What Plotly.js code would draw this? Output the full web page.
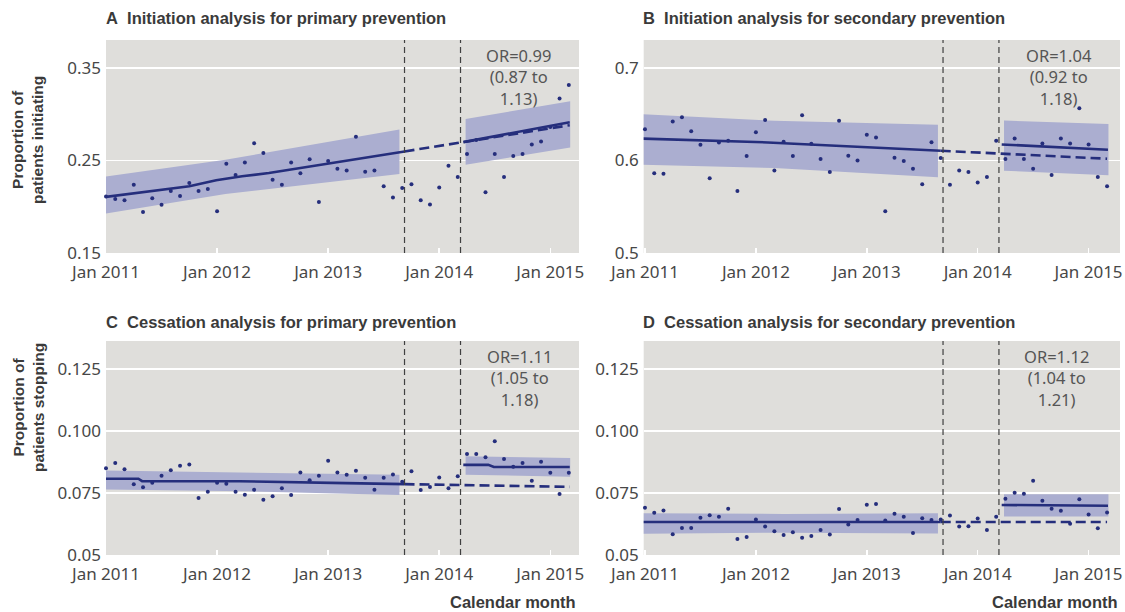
<!DOCTYPE html>
<html><head><meta charset="utf-8">
<script src="https://cdn.plot.ly/plotly-3.0.1.min.js"></script>
<style>html,body{margin:0;padding:0;background:#fff}#chart{width:1125px;height:612px}</style>
</head><body><div id="chart"></div>
<script>
// Month index: 0 = Jan 2011 ... 50 = Mar 2015
const months = Array.from({length: 51}, (_, i) => i);
const tickMonths = [0, 12, 24, 36, 48];
const tickLabels = ['Jan 2011', 'Jan 2012', 'Jan 2013', 'Jan 2014', 'Jan 2015'];
const interruption = [32.25, 38.3];

// ---- Panel A: initiation, primary prevention ----
const aPoints = [0.211, 0.2084, 0.207, 0.2238, 0.1944, 0.2091, 0.202, 0.217, 0.2116, 0.2256,
  0.217, 0.2192, 0.1952, 0.2464, 0.2342, 0.2478, 0.2686, 0.2579, 0.2292, 0.2238,
  0.2478, 0.236, 0.2511, 0.2052, 0.2493, 0.241, 0.2392, 0.2754, 0.2378, 0.2392,
  0.222, 0.2099, 0.2203, 0.2242, 0.207, 0.2023, 0.2206, 0.2443, 0.2321, 0.2568,
  0.272, 0.2156, 0.2568, 0.2321, 0.2547, 0.2568, 0.2672, 0.2704, 0.286, 0.3167, 0.3314];
const aPreK = [-0.3, 4.7, 9, 11.9, 14.7, 17.6, 20.9, 24.5, 32.25];
const aPreFit = [0.2102, 0.2167, 0.2220, 0.2285, 0.2328, 0.2364, 0.2418, 0.2471, 0.2597];
const aPreBandK = [-0.3, 12.9, 31.7];
const aPreLow = [0.1923, 0.2138, 0.2353];
const aPreHigh = [0.2321, 0.2507, 0.2833];
const aCfK = [32.25, 50.1];
const aCf = [0.2597, 0.2880];
const aPostK = [38.6, 50.1];
const aPostFit = [0.2697, 0.2912];
const aPostBandK = [38.85, 50.15];
const aPostLow = [0.2453, 0.264];
const aPostHigh = [0.2948, 0.3138];

// ---- Panel B: initiation, secondary prevention ----
const bPoints = [0.6337, 0.586, 0.5857, 0.6419, 0.6466, 0.6315, 0.6168, 0.5806, 0.6194, 0.6211,
  0.567, 0.6047, 0.6305, 0.6437, 0.5892, 0.6201, 0.6047, 0.6487, 0.6179, 0.6014,
  0.5875, 0.6427, 0.605, 0.6, 0.6276, 0.6247, 0.5452, 0.6029, 0.5993, 0.591,
  0.5742, 0.6197, 0.6025, 0.5738, 0.5892, 0.5875, 0.576, 0.5821, 0.6211, 0.6014,
  0.6237, 0.6014, 0.591, 0.6183, 0.5842, 0.6237, 0.6183, 0.6563, 0.6172, 0.5821, 0.572];
const bPreK = [-0.3, 13.3, 32.0];
const bPreFit = [0.6235, 0.6194, 0.6104];
const bPreBandK = [-0.3, 14, 31.7];
const bPreLow = [0.5953, 0.5918, 0.5817];
const bPreHigh = [0.6498, 0.6427, 0.6384];
const bCfK = [32.0, 50.0];
const bCf = [0.6104, 0.6018];
const bPostK = [38.6, 50.1];
const bPostFit = [0.6172, 0.6115];
const bPostBandK = [38.85, 50.15];
const bPostLow = [0.5889, 0.5839];
const bPostHigh = [0.643, 0.6394];

// ---- Panel C: cessation, primary prevention ----
const cPoints = [0.0850, 0.0871, 0.0846, 0.0786, 0.0774, 0.0792, 0.0820, 0.0842, 0.0860, 0.0865,
  0.0730, 0.0755, 0.0792, 0.0788, 0.0755, 0.0743, 0.0763, 0.0723, 0.0737, 0.0769,
  0.0742, 0.0833, 0.0802, 0.0820, 0.0881, 0.0833, 0.0824, 0.0840, 0.0812, 0.0763,
  0.0812, 0.0825, 0.0796, 0.0838, 0.0762, 0.0775, 0.0813, 0.0769, 0.0818, 0.0908,
  0.0908, 0.0895, 0.0959, 0.0888, 0.0856, 0.0871, 0.0800, 0.0876, 0.0832, 0.0746, 0.0832];
const cPreK = [-0.3, 3.5, 3.9, 14.4, 25.9, 32.25];
const cPreFit = [0.0808, 0.0808, 0.0798, 0.0798, 0.0790, 0.0786];
const cPreBandK = [-0.3, 15, 31.7];
const cPreLow = [0.0765, 0.0757, 0.0742];
const cPreHigh = [0.0841, 0.0834, 0.0824];
const cCfK = [32.25, 50.1];
const cCf = [0.0786, 0.0775];
const cPostK = [38.6, 41.3, 41.9, 50.1];
const cPostFit = [0.0864, 0.0864, 0.0855, 0.0855];
const cPostBandK = [38.85, 50.15];
const cPostLow = [0.0824, 0.0816];
const cPostHigh = [0.0899, 0.0892];

// ---- Panel D: cessation, secondary prevention ----
const dPoints = [0.0691, 0.0671, 0.0680, 0.0584, 0.0609, 0.0609, 0.0650, 0.0660, 0.0654, 0.0687,
  0.0565, 0.0573, 0.0643, 0.0615, 0.0596, 0.0581, 0.0592, 0.0570, 0.0577, 0.0601,
  0.0583, 0.0686, 0.0623, 0.0641, 0.0703, 0.0706, 0.0639, 0.0667, 0.0654, 0.0589,
  0.0648, 0.0641, 0.0643, 0.0659, 0.0615, 0.0616, 0.0647, 0.0601, 0.0654, 0.0727,
  0.0751, 0.0747, 0.0800, 0.0719, 0.0687, 0.0679, 0.0626, 0.0725, 0.0664, 0.0608, 0.0672];
const dPreK = [-0.3, 32.0];
const dPreFit = [0.0633, 0.0633];
const dPreBandK = [-0.3, 15, 31.7];
const dPreLow = [0.0586, 0.0590, 0.0587];
const dPreHigh = [0.0669, 0.0666, 0.0669];
const dCfK = [32.0, 50.0];
const dCf = [0.0633, 0.0633];
const dPostK = [38.6, 50.1];
const dPostFit = [0.0702, 0.0699];
const dPostBandK = [38.85, 50.15];
const dPostLow = [0.0655, 0.0655];
const dPostHigh = [0.0745, 0.0745];

const panelTitles = ['A\u00a0 Initiation analysis for primary prevention',
  'B\u00a0 Initiation analysis for secondary prevention',
  'C\u00a0 Cessation analysis for primary prevention',
  'D\u00a0 Cessation analysis for secondary prevention'];
const oddsRatios = ['OR=0.99<br>(0.87 to<br>1.13)', 'OR=1.04<br>(0.92 to<br>1.18)',
  'OR=1.11<br>(1.05 to<br>1.18)', 'OR=1.12<br>(1.04 to<br>1.21)'];
const yTitles = ['Proportion of<br>patients initiating', 'Proportion of<br>patients stopping'];
const xTitle = 'Calendar month';

// ---- styling ----
const NAVY = '#252e7c';
const BAND = '#abaed0';
const BG = '#dfdedb';
const TXT = '#474747';
const TICKFONT = {family: "'Noto Sans', sans-serif", size: 17, color: TXT};
const BOLDFONT = "'Liberation Sans', Arial, sans-serif";

const W = 1125, H = 612;
const px = v => v / W, py = v => 1 - v / H;

const data = [];
function bandTrace(K, lo, hi, xa, ya) {
  return {x: K.concat(K.slice().reverse()), y: hi.concat(lo.slice().reverse()),
    xaxis: xa, yaxis: ya, type: 'scatter', mode: 'lines', fill: 'toself',
    fillcolor: BAND, line: {width: 0}, hoverinfo: 'skip', showlegend: false};
}
function lineTrace(K, Y, xa, ya, dash) {
  return {x: K, y: Y, xaxis: xa, yaxis: ya, type: 'scatter', mode: 'lines',
    line: {color: NAVY, width: 2.6, dash: dash || 'solid'}, showlegend: false};
}
function addPanel(xa, ya, p) {
  data.push(bandTrace(p.preBandK, p.preLow, p.preHigh, xa, ya));
  data.push(bandTrace(p.postBandK, p.postLow, p.postHigh, xa, ya));
  data.push({x: months, y: p.points, xaxis: xa, yaxis: ya, type: 'scatter', mode: 'markers',
    marker: {color: NAVY, size: 4}, cliponaxis: false, showlegend: false});
  data.push(lineTrace(p.preK, p.preFit, xa, ya));
  data.push(lineTrace(p.cfK, p.cf, xa, ya, '10px,5px'));
  data.push(lineTrace(p.postK, p.postFit, xa, ya));
}
addPanel('x', 'y', {points: aPoints, preK: aPreK, preFit: aPreFit, preBandK: aPreBandK, preLow: aPreLow, preHigh: aPreHigh,
  cfK: aCfK, cf: aCf, postK: aPostK, postFit: aPostFit, postBandK: aPostBandK, postLow: aPostLow, postHigh: aPostHigh});
addPanel('x2', 'y2', {points: bPoints, preK: bPreK, preFit: bPreFit, preBandK: bPreBandK, preLow: bPreLow, preHigh: bPreHigh,
  cfK: bCfK, cf: bCf, postK: bPostK, postFit: bPostFit, postBandK: bPostBandK, postLow: bPostLow, postHigh: bPostHigh});
addPanel('x3', 'y3', {points: cPoints, preK: cPreK, preFit: cPreFit, preBandK: cPreBandK, preLow: cPreLow, preHigh: cPreHigh,
  cfK: cCfK, cf: cCf, postK: cPostK, postFit: cPostFit, postBandK: cPostBandK, postLow: cPostLow, postHigh: cPostHigh});
addPanel('x4', 'y4', {points: dPoints, preK: dPreK, preFit: dPreFit, preBandK: dPreBandK, preLow: dPreLow, preHigh: dPreHigh,
  cfK: dCfK, cf: dCf, postK: dPostK, postFit: dPostFit, postBandK: dPostBandK, postLow: dPostLow, postHigh: dPostHigh});

function xAxis(dom, anchor, range) {
  return {domain: dom, anchor: anchor, range: range, tickmode: 'array', tickvals: tickMonths,
    ticktext: tickLabels, ticks: 'inside', ticklen: 5, tickwidth: 1.5, tickcolor: '#ffffff',
    showgrid: false, zeroline: false, showline: false, tickfont: TICKFONT, ticklabelstandoff: 7, fixedrange: true};
}
function yAxis(dom, anchor, range, vals, text) {
  return {domain: dom, anchor: anchor, range: range, tickmode: 'array', tickvals: vals, ticktext: text,
    ticks: '', showgrid: true, gridcolor: '#ffffff', gridwidth: 1.6, zeroline: false, showline: false,
    tickfont: TICKFONT, ticklabelstandoff: 4, fixedrange: true};
}
const topDom = [py(253), py(40)], botDom = [py(555), py(341)];
const leftDom = [px(106), px(579)], rightDom = [px(643.7), px(1120)];

const shapes = [];
['x', 'x2', 'x3', 'x4'].forEach((xa, i) => {
  interruption.forEach(v => shapes.push({type: 'line', xref: xa, yref: (i ? 'y' + (i + 1) : 'y') + ' domain',
    x0: v, x1: v, y0: 0, y1: 1, layer: 'above', line: {color: '#404040', width: 1.2, dash: '6px,4px'}}));
});

const annotations = [];
const titlePos = [[104, 18], [641, 18], [104, 322], [641, 322]];
panelTitles.forEach((t, i) => annotations.push({text: '<b>' + t + '</b>', xref: 'paper', yref: 'paper',
  x: px(titlePos[i][0]), y: py(titlePos[i][1]), xanchor: 'left', yanchor: 'middle', showarrow: false,
  font: {family: BOLDFONT, size: 16.5, color: '#3a3a3a'}}));
const orPos = [[518, 76.5], [1059, 76.5], [519, 377.5], [1056, 377.5]];
oddsRatios.forEach((t, i) => annotations.push({text: t, xref: 'paper', yref: 'paper',
  x: px(orPos[i][0]), y: py(orPos[i][1]), xanchor: 'center', yanchor: 'middle', align: 'center', showarrow: false,
  font: {family: "'Noto Sans', sans-serif", size: 16.5, color: '#555555'}}));
[[140], [408]].forEach((p, i) => annotations.push({text: '<b>' + yTitles[i] + '</b>', xref: 'paper', yref: 'paper',
  x: px(28), y: py(p[0]), xanchor: 'center', yanchor: 'middle', textangle: -90, showarrow: false,
  font: {family: BOLDFONT, size: 15.5, color: '#3a3a3a'}}));
[578, 1120].forEach(xr => annotations.push({text: '<b>' + xTitle + '</b>', xref: 'paper', yref: 'paper',
  x: px(xr), y: py(602), xanchor: 'right', yanchor: 'middle', showarrow: false,
  font: {family: BOLDFONT, size: 16.5, color: '#3a3a3a'}}));

const layout = {
  width: W, height: H, margin: {l: 0, r: 0, t: 0, b: 0}, paper_bgcolor: '#ffffff', plot_bgcolor: BG,
  showlegend: false,
  xaxis: xAxis(leftDom, 'y', [0, 51.1]),
  xaxis2: xAxis(rightDom, 'y2', [-0.14, 51.4]),
  xaxis3: xAxis(leftDom, 'y3', [0, 51.1]),
  xaxis4: xAxis(rightDom, 'y4', [-0.14, 51.4]),
  yaxis: yAxis(topDom, 'x', [0.15, 0.38], [0.15, 0.25, 0.35], ['0.15', '0.25', '0.35']),
  yaxis2: yAxis(topDom, 'x2', [0.5, 0.73], [0.5, 0.6, 0.7], ['0.5', '0.6', '0.7']),
  yaxis3: yAxis(botDom, 'x3', [0.05, 0.1364], [0.05, 0.075, 0.1, 0.125], ['0.05', '0.075', '0.100', '0.125']),
  yaxis4: yAxis(botDom, 'x4', [0.05, 0.1364], [0.05, 0.075, 0.1, 0.125], ['0.05', '0.075', '0.100', '0.125']),
  shapes: shapes, annotations: annotations
};
Plotly.newPlot('chart', data, layout, {staticPlot: true, displayModeBar: false});
</script>
</body></html>
